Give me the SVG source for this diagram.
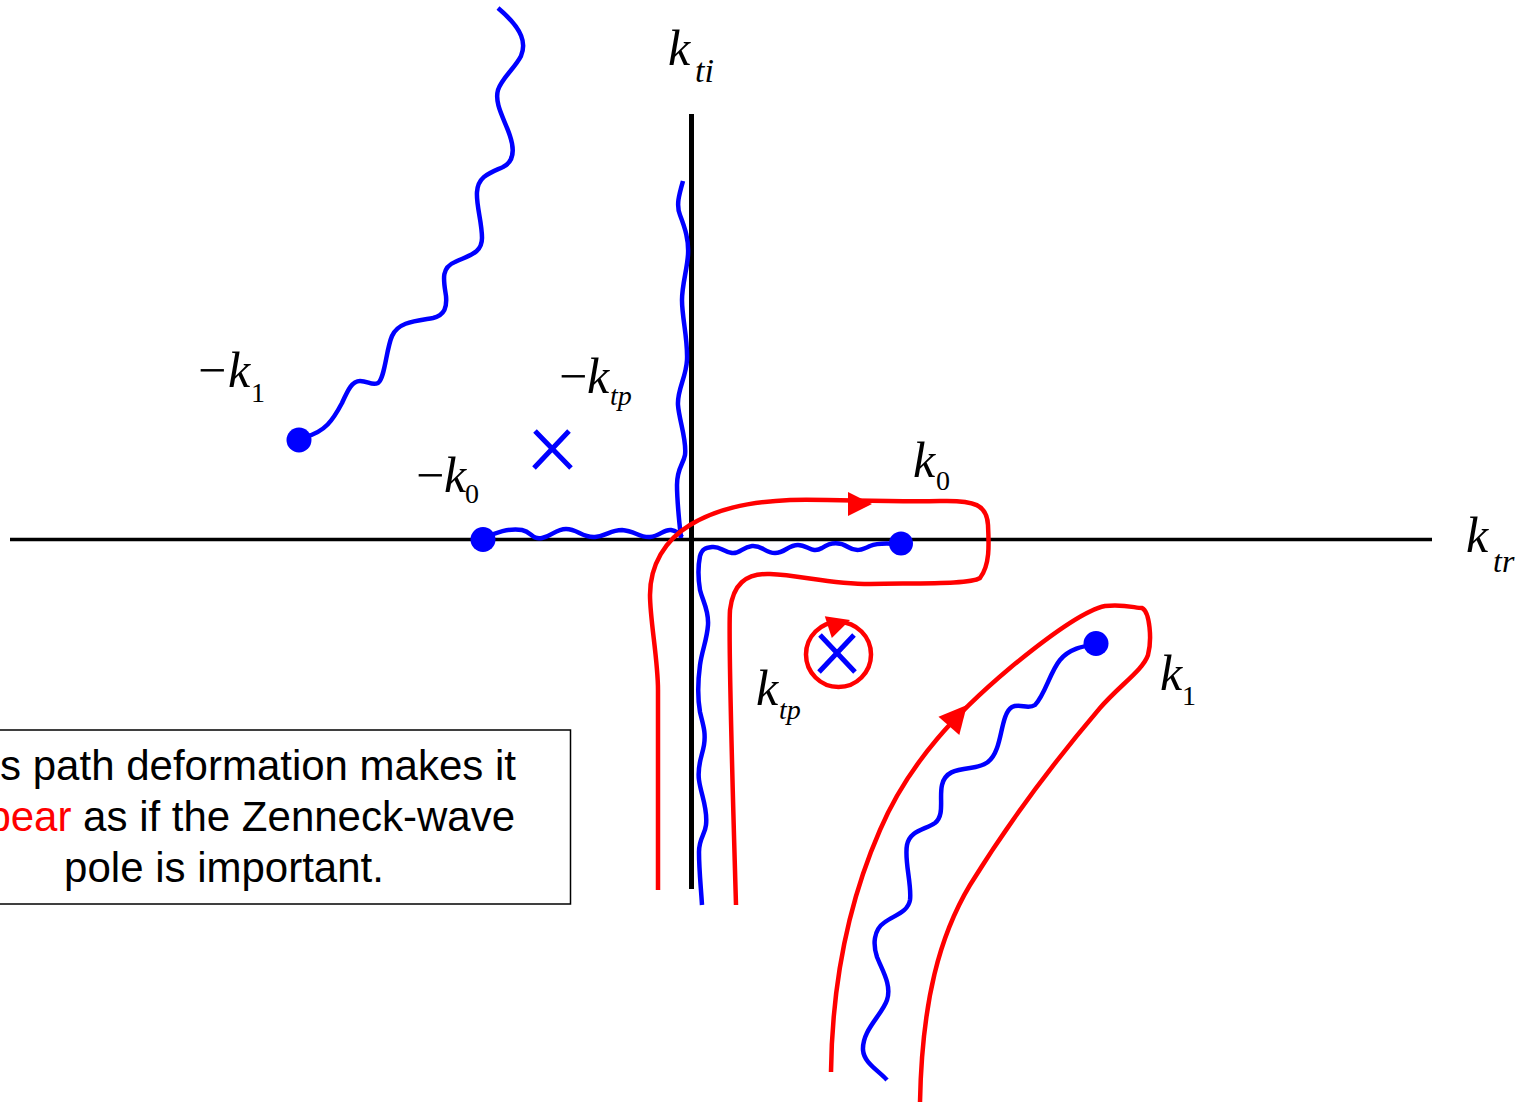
<svg xmlns="http://www.w3.org/2000/svg" xmlns:xlink="http://www.w3.org/1999/xlink" width="1522" height="1104" viewBox="0 0 1522 1104">
<style>
.axis{stroke:#000;fill:none}
.cut{stroke:#0000FF;stroke-width:4.5;fill:none;stroke-linecap:butt}
.path{stroke:#FF0000;stroke-width:4.5;fill:none}
.dot{fill:#0000FF}
.x{stroke:#0000FF;stroke-width:5;fill:none}
.ah{fill:#FF0000}
.lbl{font-family:"Liberation Serif","Times New Roman",serif;font-style:italic;fill:#000;font-size:50px}
.mn{font-style:normal}
.sub{font-family:"Liberation Serif","Times New Roman",serif;font-style:normal;font-size:28px}
.subi{font-style:italic}
.note{font-family:"Liberation Sans",Arial,sans-serif;font-size:42px;fill:#000}
</style>
<defs>
<path id="ah" d="M 0 0 L -24 -12 L -24 12 Z"/>
</defs>
<rect width="1522" height="1104" fill="#fff"/>

<g id="axes">
<line class="axis" x1="10" y1="539.5" x2="1432" y2="539.5" stroke-width="3.5"/>
<line class="axis" x1="691.5" y1="114" x2="691.5" y2="889" stroke-width="5"/>
</g>

<g id="connectors">
<path class="cut" d="M 305 437 C 325 432, 333 420, 342 403 C 348 390, 352 381, 360 381 C 368 381, 372 386, 378 383 C 385 378, 386 350, 392 336 C 398 322, 415 321, 433 318 C 445 315, 447 307, 446 296 C 444 282, 440 268, 455 262 C 470 255, 482 253, 482 238 C 482 222, 476 205, 477 192 C 478 176, 490 173, 503 167 C 515 161, 514 148, 510 136 C 505 120, 494 104, 498 90 C 502 78, 515 68, 521 56 C 526 44, 524 30, 498 8"/>
<path class="cut" d="M 483 539 C 495 532, 510 528, 522 530 C 532 532, 532 540, 542 538 C 552 536, 556 529, 566 529 C 578 529, 582 538, 595 537 C 607 536, 610 530, 622 530 C 635 531, 640 538, 650 537 C 660 536, 664 529, 671 530 C 677 531, 680 534, 682 537"/>
<path class="cut" d="M 683 181 C 679 195, 676 205, 680 215 C 685 228, 689 240, 688 255 C 687 270, 682 285, 682 300 C 682 318, 688 340, 687 360 C 686 378, 677 390, 678 405 C 679 420, 687 440, 685 455 C 683 465, 677 468, 677 485 C 677 500, 679 520, 681 538"/>
<path class="cut" d="M 900 544 C 890 544, 880 542, 870 546 C 862 550, 856 552, 848 547 C 840 542, 832 541, 822 548 C 812 554, 808 545, 798 545 C 788 545, 785 553, 775 553 C 765 553, 762 545, 752 546 C 742 547, 740 554, 732 553 C 722 551, 720 546, 712 547 C 705 548, 702 549, 700 556 C 698 566, 698 578, 700 590 C 703 602, 709 610, 708 625 C 707 640, 702 650, 700 665 C 698 680, 697 695, 700 712 C 703 725, 706 732, 704 745 C 702 757, 697 765, 699 780 C 701 795, 708 808, 706 825 C 705 835, 699 838, 699 852 C 699 870, 701 888, 702 905"/>
<path class="cut" d="M 1096 644 C 1085 646, 1070 648, 1060 660 C 1050 672, 1045 695, 1035 705 C 1028 710, 1020 703, 1012 707 C 1003 712, 1002 735, 997 748 C 992 762, 985 766, 970 768 C 955 770, 945 772, 942 785 C 939 798, 945 815, 935 823 C 925 830, 910 830, 907 845 C 904 860, 912 885, 910 900 C 908 912, 895 915, 885 922 C 873 930, 873 945, 877 957 C 882 970, 892 985, 887 1000 C 882 1015, 862 1030, 863 1050 C 864 1063, 878 1070, 887 1080"/>

<path class="path" d="M 658 890 L 658 690 C 658 660, 650 620, 650 595 C 650 565, 665 540, 690 525 C 715 510, 745 502, 790 500 C 830 499, 880 502, 940 501 C 975 500, 987 505, 988 525 C 989 545, 990 565, 980 578 C 970 584, 930 583, 870 584 C 830 584, 800 575, 770 574 C 745 573, 733 585, 730 610 C 728 640, 733 800, 736 905"/>
<path class="path" d="M 831 1072 C 832 990, 845 910, 880 830 C 910 760, 960 710, 1010 668 C 1050 635, 1085 610, 1105 606 C 1125 604, 1135 608, 1142 608 C 1150 612, 1152 640, 1148 655 C 1143 670, 1120 685, 1100 708 C 1060 755, 1010 820, 970 885 C 940 935, 922 1000, 920 1102"/>
<circle class="path" cx="838.5" cy="654.5" r="32.5" stroke-width="3.5"/>
<use xlink:href="#ah" class="ah" transform="translate(872,504)"/>
<use xlink:href="#ah" class="ah" transform="translate(850,620) rotate(-18) scale(0.95)"/>
<use xlink:href="#ah" class="ah" transform="translate(967,705) rotate(-49) scale(1.15)"/>
</g>

<g id="poles">
<circle class="dot" cx="299" cy="440" r="12.5"/>
<circle class="dot" cx="483" cy="539.5" r="12.5"/>
<circle class="dot" cx="901" cy="543.5" r="12"/>
<circle class="dot" cx="1096" cy="643.5" r="12.5"/>
<path class="x" d="M 535 431 L 571 468 M 569 431 L 534 468"/>
<path class="x" d="M 820 635 L 855 672 M 854 635 L 819 672"/>
</g>

<g id="labels">
<text class="lbl" x="668" y="65" font-size="66">k<tspan x="695" y="82" font-size="34">ti</tspan></text>
<text class="lbl" x="1466" y="552" font-size="58">k<tspan x="1493" y="572" font-size="32">tr</tspan></text>
<text class="lbl" y="387"><tspan class="mn" x="198">−</tspan><tspan x="228">k</tspan><tspan class="sub" x="251" y="402">1</tspan></text>
<text class="lbl" y="393"><tspan class="mn" x="559">−</tspan><tspan x="587">k</tspan><tspan class="sub subi" x="610" y="405">tp</tspan></text>
<text class="lbl" y="492"><tspan class="mn" x="416">−</tspan><tspan x="444">k</tspan><tspan class="sub" x="465" y="503">0</tspan></text>
<text class="lbl" x="913" y="477">k<tspan class="sub" x="936" y="490">0</tspan></text>
<text class="lbl" x="756" y="705">k<tspan class="sub subi" x="779" y="719">tp</tspan></text>
<text class="lbl" x="1160" y="690">k<tspan class="sub" x="1182" y="705">1</tspan></text>
</g>

<g id="note">
<rect x="-10" y="730" width="580.5" height="174" fill="none" stroke="#000" stroke-width="1.5"/>
<text class="note" x="516" y="780" text-anchor="end">s path deformation makes it</text>
<text class="note" x="515" y="831" text-anchor="end"><tspan fill="#FF0000">pear</tspan> as if the Zenneck-wave</text>
<text class="note" x="224" y="882" text-anchor="middle">pole is important.</text>
</g>
</svg>
